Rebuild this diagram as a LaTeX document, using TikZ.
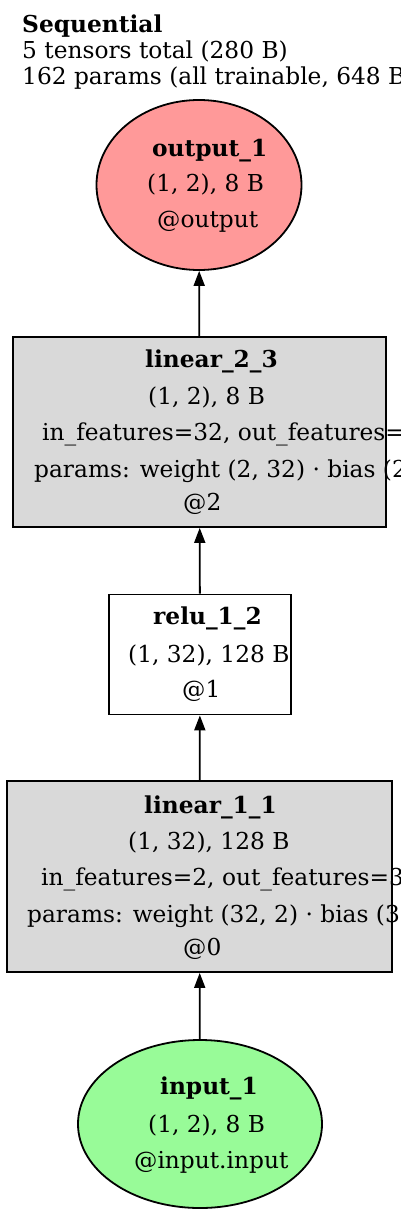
\documentclass[tikz,border=0pt]{standalone}
\usepackage{fontspec}
\setmainfont{DejaVu Serif}
\usetikzlibrary{arrows.meta,positioning,shapes.geometric}
\definecolor{outred}{HTML}{FF9999}
\definecolor{inpgreen}{HTML}{98FB98}
\definecolor{opgray}{HTML}{D9D9D9}

\begin{document}
\begin{tikzpicture}[
  x=1pt, y=-1pt,
  font=\fontsize{23.3}{26}\selectfont,
  ell/.style={draw, ellipse, line width=1.8pt, inner sep=0pt},
  op/.style={draw, rectangle, line width=1.8pt, inner sep=0pt},
  txt/.style={anchor=base west, inner sep=0pt},
  arr/.style={-{Triangle[length=15pt,width=11pt]}, line width=1.8pt}
]
\clip (0,0) rectangle (400,1217);

% header
\node[txt] (title) at (22,33) {\textbf{Sequential}};
\node[txt] (tensors) at (22,59) {5 tensors total (280 B)};
\node[txt] (params) at (22,85) {162 params (all trainable, 648 B)};

% shapes
\node[ell, fill=outred, minimum width=205pt, minimum height=170pt] (out) at (199,185) {};
\node[op, fill=opgray, minimum width=373pt, minimum height=190pt] (lin2) at (199.5,432) {};
\node[op, fill=white, minimum width=182pt, minimum height=120pt] (relu) at (200,654.5) {};
\node[op, fill=opgray, minimum width=385pt, minimum height=191pt] (lin1) at (199.5,876.5) {};
\node[ell, fill=inpgreen, minimum width=244pt, minimum height=168pt] (inp) at (200,1124) {};

% labels
\node[txt] (out-a) at (152,157) {\textbf{output\_1}};
\node[txt] (out-b) at (147,192) {(1, 2), 8 B};
\node[txt] (out-c) at (157,227) {@output};

\node[txt] (lin2-a) at (145,367) {\textbf{linear\_2\_3}};
\node[txt] (lin2-b) at (148,404) {(1, 2), 8 B};
\node[txt] (lin2-c) at (42,440) {in\_features=32, out\_features=2};
\node[txt] (lin2-d) at (34,477) {params: weight (2, 32) · bias (2,)};
\node[txt] (lin2-e) at (183,510) {@2};

\node[txt] (relu-a) at (153,624) {\textbf{relu\_1\_2}};
\node[txt] (relu-b) at (128,662) {(1, 32), 128 B};
\node[txt] (relu-c) at (182,697) {@1};

\node[txt] (lin1-a) at (144,813) {\textbf{linear\_1\_1}};
\node[txt] (lin1-b) at (128,849) {(1, 32), 128 B};
\node[txt] (lin1-c) at (41,885) {in\_features=2, out\_features=32};
\node[txt] (lin1-d) at (27,922) {params: weight (32, 2) · bias (32,)};
\node[txt] (lin1-e) at (183,955) {@0};

\node[txt] (inp-a) at (160,1094) {\textbf{input\_1}};
\node[txt] (inp-b) at (148,1132) {(1, 2), 8 B};
\node[txt] (inp-c) at (134,1168) {@input.input};

% edges
\draw[arr] (inp) -- (lin1);
\draw[arr] (lin1) -- (relu);
\draw[arr] (relu) -- (lin2);
\draw[arr] (lin2) -- (out);
\end{tikzpicture}
\end{document}
